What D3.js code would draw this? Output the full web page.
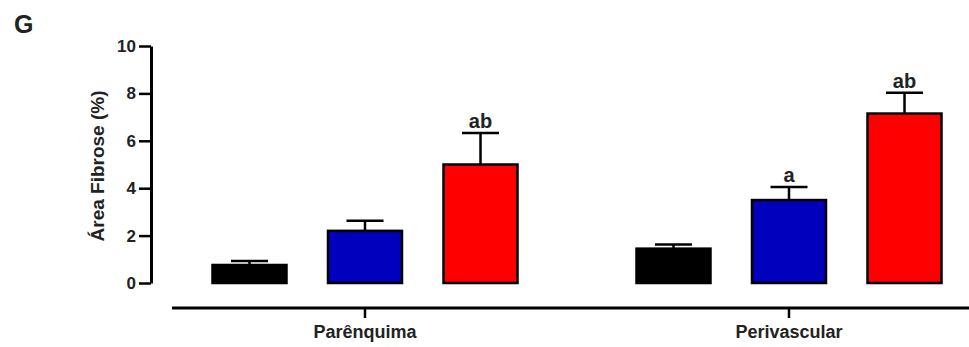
<!DOCTYPE html>
<html><head><meta charset="utf-8">
<script src="https://cdn.jsdelivr.net/npm/d3@7/dist/d3.min.js"></script>
<style>body{margin:0;background:#fff}svg{display:block}text{font-family:"Liberation Sans",Arial,sans-serif;font-weight:bold;fill:#222}</style>
</head><body>
<script>
const categories = ["Parênquima", "Perivascular"];
const groups = ["Controle", "Grupo A", "Grupo B"];
const colors = ["#000000", "#0000bd", "#ff0000"];
const meansParenquima = [0.76, 2.2, 5.0];
const errParenquima = [0.17, 0.43, 1.33];
const meansPerivascular = [1.45, 3.5, 7.15];
const errPerivascular = [0.17, 0.55, 0.88];
const lettersParenquima = ["", "", "ab"];
const lettersPerivascular = ["", "a", "ab"];
const yTicks = [0, 2, 4, 6, 8, 10];

const W = 969, H = 347;
const FONT = '"Liberation Sans",Arial,sans-serif';
const svg = d3.select("body").append("svg").attr("width", W).attr("height", H);

const y = d3.scaleLinear().domain([0, 10]).range([283, 46]);
const x = d3.scaleBand().domain(categories).range([153, 1001]);
const xi = d3.scalePoint().domain(groups).range([-115.5, 115.5]);
const barW = 74;

const data = [];
categories.forEach((c, ci) => {
  const m = ci === 0 ? meansParenquima : meansPerivascular;
  const e = ci === 0 ? errParenquima : errPerivascular;
  const l = ci === 0 ? lettersParenquima : lettersPerivascular;
  groups.forEach((g, gi) => data.push({c, g, v: m[gi], e: e[gi], lab: l[gi], col: colors[gi]}));
});
const cx = d => x(d.c) + x.bandwidth() / 2 + xi(d.g);

// Error bars
const eb = svg.append("g").attr("stroke", "#000").attr("stroke-width", 2.5);
eb.selectAll("line.v").data(data).join("line")
  .attr("x1", cx).attr("x2", cx).attr("y1", d => y(d.v)).attr("y2", d => y(d.v + d.e));
eb.selectAll("line.c").data(data).join("line")
  .attr("x1", d => cx(d) - 18.5).attr("x2", d => cx(d) + 18.5)
  .attr("y1", d => y(d.v + d.e)).attr("y2", d => y(d.v + d.e));

// Bars
svg.append("g").selectAll("rect").data(data).join("rect")
  .attr("x", d => cx(d) - barW / 2).attr("width", barW)
  .attr("y", d => y(d.v)).attr("height", d => y(0) - y(d.v))
  .attr("fill", d => d.col).attr("stroke", "#000").attr("stroke-width", 2.5);

// Letters
svg.append("g").selectAll("text").data(data.filter(d => d.lab)).join("text")
  .attr("x", cx).attr("y", d => y(d.v + d.e) - 5)
  .attr("text-anchor", "middle").attr("font-size", 20).text(d => d.lab);

// Y axis
const ya = svg.append("g").attr("transform", "translate(151,0)")
  .call(d3.axisLeft(y).tickValues(yTicks).tickSize(12).tickPadding(3).tickSizeOuter(0));
ya.select(".domain").attr("stroke", "#000").attr("stroke-width", 3);
ya.selectAll(".tick line").attr("stroke", "#000").attr("stroke-width", 2.5);
ya.selectAll(".tick text").attr("font-size", 17).attr("fill", "#222")
  .style("font-family", FONT).style("font-weight", "bold");

// X axis
const xa = svg.append("g").attr("transform", "translate(0,308)")
  .call(d3.axisBottom(x).tickSize(10).tickPadding(7).tickSizeOuter(0));
xa.select(".domain").remove();
svg.append("line").attr("x1", 172).attr("x2", 969).attr("y1", 308).attr("y2", 308)
  .attr("stroke", "#000").attr("stroke-width", 3);
xa.selectAll(".tick line").attr("stroke", "#000").attr("stroke-width", 2.5);
xa.selectAll(".tick text").attr("font-size", 18).attr("fill", "#222")
  .style("font-family", FONT).style("font-weight", "bold");

// Y title
svg.append("text").attr("transform", "translate(104,166) rotate(-90)")
  .attr("text-anchor", "middle").attr("font-size", 19).text("Área Fibrose (%)");

// Panel letter
svg.append("text").attr("x", 14).attr("y", 33).attr("font-size", 25).attr("fill", "#111").text("G");
</script>
</body></html>
